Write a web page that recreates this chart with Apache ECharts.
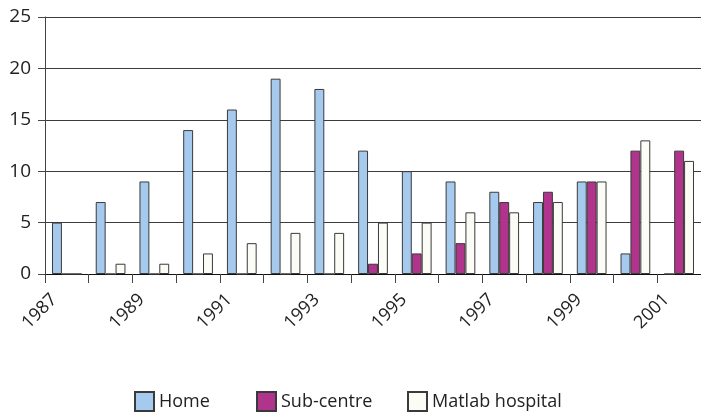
<!DOCTYPE html>
<html>
<head>
<meta charset="utf-8">
<script src="https://cdn.jsdelivr.net/npm/echarts@6/dist/echarts.min.js"></script>
<style>
  html, body { margin: 0; padding: 0; background: #fff; }
  #chart { width: 701px; height: 412px; }
</style>
</head>
<body>
<div id="chart"></div>
<script>
  // years on the category axis
  const years = ['1987', '1988', '1989', '1990', '1991', '1992', '1993', '1994',
                 '1995', '1996', '1997', '1998', '1999', '2000', '2001'];

  const home      = [5, 7, 9, 14, 16, 19, 18, 12, 10, 9, 8, 7, 9, 2, 0];
  const subCentre = [0, 0, 0, 0, 0, 0, 0, 1, 2, 3, 7, 8, 9, 12, 12];
  const matlab    = [0, 1, 1, 2, 3, 4, 4, 5, 5, 6, 6, 7, 9, 13, 11];

  const yTicks = [0, 5, 10, 15, 20, 25];

  const font = 'Open Sans';

  let myChart = echarts.init(document.getElementById('chart'));

  function makeSeries(name, data, color) {
    return {
      name: name,
      type: 'bar',
      data: data,
      barGap: '0%',
      barCategoryGap: '32%',
      itemStyle: {
        color: color,
        borderColor: '#3a3a3a',
        borderWidth: 1
      }
    };
  }

  function makeLegend(name, left) {
    return {
      data: [name],
      left: left,
      top: 386,
      icon: 'rect',
      itemWidth: 19,
      itemHeight: 19,
      itemGap: 0,
      textStyle: { fontFamily: font, fontSize: 18, color: '#222' }
    };
  }

  let option = {
    animation: false,
    grid: { left: 45, right: 0, top: 17, bottom: 138 },
    legend: [
      makeLegend('Home', 129),
      makeLegend('Sub-centre', 251),
      makeLegend('Matlab hospital', 402)
    ],
    xAxis: {
      type: 'category',
      data: years,
      axisLine: { lineStyle: { color: '#111', width: 1 } },
      axisTick: { show: true, interval: 0, length: 9, lineStyle: { color: '#444' } },
      axisLabel: {
        interval: 1,
        rotate: 45,
        margin: 10,
        padding: [0, 18, 0, 0],
        fontFamily: font,
        fontSize: 18,
        color: '#222'
      }
    },
    yAxis: {
      type: 'value',
      min: yTicks[0],
      max: yTicks[yTicks.length - 1],
      interval: 5,
      axisLine: { show: true, lineStyle: { color: '#444', width: 1 } },
      axisTick: { show: true, length: 7, lineStyle: { color: '#444' } },
      axisLabel: { margin: 14, fontFamily: font, fontSize: 19, color: '#222' },
      splitLine: { lineStyle: { color: '#3c3c3c', width: 1 } }
    },
    series: [
      makeSeries('Home', home, '#a6caee'),
      makeSeries('Sub-centre', subCentre, '#b0338c'),
      makeSeries('Matlab hospital', matlab, '#fbfcf6')
    ]
  };

  myChart.setOption(option);
</script>
</body>
</html>
